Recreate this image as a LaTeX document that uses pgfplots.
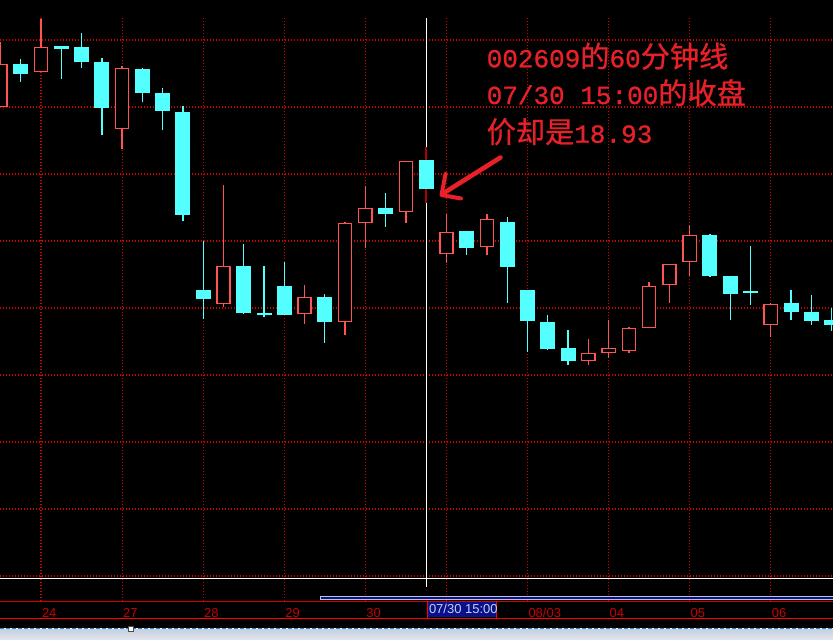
\documentclass[border=0pt]{standalone}
\usepackage{pgfplots}
\usepackage{pgfplotstable}
\pgfplotsset{compat=1.18}
\usepackage{fontspec}
\setmainfont{Liberation Sans}
\newfontfamily\cjk[FakeBold=0.8]{Noto Sans CJK SC}
\newfontfamily\mono[FakeBold=1]{Liberation Mono}
\definecolor{cy}{RGB}{84,255,255}
\definecolor{rd}{RGB}{255,84,84}
\definecolor{gridred}{RGB}{215,0,0}
\definecolor{wickred}{RGB}{170,0,0}
\definecolor{txtred}{RGB}{232,32,40}
\definecolor{navyb}{RGB}{8,16,140}
\definecolor{lblred}{RGB}{200,0,0}
\definecolor{sbar}{RGB}{190,196,212}
\definecolor{datetxt}{RGB}{200,206,228}
\definecolor{stripA}{RGB}{196,204,220}
\definecolor{stripB}{RGB}{226,231,240}
\definecolor{dashblue}{RGB}{40,130,225}
\newcommand{\A}[1]{{\mono\fontsize{26}{30}\selectfont #1}}
\newcommand{\C}[1]{{\cjk\fontsize{29.2}{30}\selectfont #1}}
\pgfplotsset{candle/.style={draw=none, mark=none, forget plot,
  error bars/.cd, y dir=both, y explicit, error mark=none}}

% 60-minute candles, values in chart pixels (top = 0): k open high low close
\pgfplotstableread{
k o h l c
0 107 42 107 64
2 72 19 72 47
6 129 66 149 68
11 304 185 307 266
15 314 285 324 297
17 322 222 335 223
18 223 186 248 208
20 212 161 223 161
22 254 214 263 232
24 247 214 255 219
29 361 339 365 353
30 353 320 358 348
31 351 327 353 328
32 328 282 328 286
33 285 264 303 264
34 262 225 276 235
38 325 303 337 304
}\up
\pgfplotstableread{
k o h l c
1 64 59 82 74
3 46 46 79 49
4 47 33 68 62
5 62 58 135 108
7 69 68 102 93
8 93 88 130 111
9 112 106 221 215
10 290 241 319 299
12 266 244 314 313
13 313 266 317 315
14 286 262 315 315
16 297 294 343 322
19 208 193 227 214
21 160 147 203 189
23 231 231 255 248
25 222 217 303 267
26 290 290 352 321
27 322 315 350 349
28 348 330 365 361
35 235 234 277 276
36 276 276 320 294
37 291 246 305 292
39 303 290 320 312
40 312 295 325 321
41 320 308 331 325
}\down
\pgfplotstableread{
k o h l c
21 160 147 203 189
}\cross

\begin{document}
\begin{tikzpicture}
\fill[black] (0,0) rectangle (833pt,640pt);
\begin{axis}[
  at={(0,0)}, anchor=south west,
  width=833pt, height=640pt, scale only axis,
  xmin=0, xmax=833, ymin=0, ymax=640, y dir=reverse,
  hide x axis, hide y axis,
]
% grid
\pgfplotsinvokeforeach{40,107,174,241,308,375,442,509,576}{
  \draw[gridred, line width=1.1pt, dash pattern=on 1.1pt off 1.9pt] (axis cs:0,#1) -- (axis cs:833,#1);
}
\pgfplotsinvokeforeach{41.04,122.1,203.2,284.3,365.4,446.4,527.5,608.6,689.7,770.8}{
  \draw[gridred, line width=1.1pt, dash pattern=on 1.1pt off 1.9pt] (axis cs:#1,18) -- (axis cs:#1,603);
}
% crosshair
\draw[white, line width=1pt] (axis cs:426.2,18) -- (axis cs:426.2,587);
\draw[white, line width=1pt] (axis cs:0,578) -- (axis cs:833,578);

% wicks
\addplot[candle, error bar style={draw=rd, line width=1.3pt}]
  table[x expr=0.5+20.27*\thisrow{k}, y expr=(\thisrow{h}+\thisrow{l})/2, y error expr=(\thisrow{l}-\thisrow{h})/2] {\up};
\addplot[candle, error bar style={draw=cy, line width=1.3pt}]
  table[x expr=0.5+20.27*\thisrow{k}, y expr=(\thisrow{h}+\thisrow{l})/2, y error expr=(\thisrow{l}-\thisrow{h})/2] {\down};
\addplot[candle, error bar style={draw=wickred, line width=1.4pt}]
  table[x expr=0.5+20.27*\thisrow{k}, y expr=(\thisrow{h}+\thisrow{l})/2, y error expr=(\thisrow{l}-\thisrow{h})/2] {\cross};
% bodies
\addplot[candle, error bar style={draw=rd, line width=14.6pt}]
  table[x expr=0.5+20.27*\thisrow{k}, y expr=(\thisrow{o}+\thisrow{c})/2, y error expr=abs(\thisrow{o}-\thisrow{c})/2] {\up};
\addplot[candle, error bar style={draw=black, line width=11.8pt}]
  table[x expr=0.5+20.27*\thisrow{k}, y expr=(\thisrow{o}+\thisrow{c})/2, y error expr=abs(\thisrow{o}-\thisrow{c})/2-1.4] {\up};
\addplot[candle, error bar style={draw=cy, line width=15pt}]
  table[x expr=0.5+20.27*\thisrow{k}, y expr=(\thisrow{o}+\thisrow{c})/2, y error expr=abs(\thisrow{o}-\thisrow{c})/2] {\down};

% annotation
\node[anchor=base west, inner sep=0, text=txtred] at (axis cs:486.5,67.3) {\A{002609}\C{的}\A{60}\C{分钟线}};
\node[anchor=base west, inner sep=0, text=txtred] at (axis cs:486.5,104) {\A{07/30 15:00}\C{的收盘}};
\node[anchor=base west, inner sep=0, text=txtred] at (axis cs:486.5,142.7) {\C{价却是}\A{18.93}};
\draw[txtred, line width=4.6pt, line cap=round, line join=round] (axis cs:500.5,157.5) -- (axis cs:443,193.5);
\draw[txtred, line width=4pt, line cap=round, line join=round] (axis cs:445.5,174) -- (axis cs:441.5,195) -- (axis cs:461,198.5);

% bottom area
\draw[fill=navyb, draw=sbar, line width=0.7pt] (axis cs:320,596.8) rectangle (axis cs:833,599.3);
\draw[gridred, line width=0.9pt] (axis cs:0,601.3) -- (axis cs:833,601.3);
\fill[navyb] (axis cs:426.7,601.5) rectangle (axis cs:496.7,616.8);
\draw[red, line width=0.9pt] (axis cs:427.1,601) -- (axis cs:427.1,617.5);
\draw[red, line width=0.9pt] (axis cs:496.3,601) -- (axis cs:496.3,617.5);
\node[anchor=west, inner sep=0, text=datetxt, font=\fontsize{13}{13}\selectfont] at (axis cs:428.8,609.3) {07/30 15:00};
\node[anchor=west, inner sep=0, text=lblred, font=\fontsize{13}{13}\selectfont] at (axis cs:41.8,612.8) {24};
\node[anchor=west, inner sep=0, text=lblred, font=\fontsize{13}{13}\selectfont] at (axis cs:122.9,612.8) {27};
\node[anchor=west, inner sep=0, text=lblred, font=\fontsize{13}{13}\selectfont] at (axis cs:204.0,612.8) {28};
\node[anchor=west, inner sep=0, text=lblred, font=\fontsize{13}{13}\selectfont] at (axis cs:285.1,612.8) {29};
\node[anchor=west, inner sep=0, text=lblred, font=\fontsize{13}{13}\selectfont] at (axis cs:366.2,612.8) {30};
\node[anchor=west, inner sep=0, text=lblred, font=\fontsize{13}{13}\selectfont] at (axis cs:528.3,612.8) {08/03};
\node[anchor=west, inner sep=0, text=lblred, font=\fontsize{13}{13}\selectfont] at (axis cs:609.4,612.8) {04};
\node[anchor=west, inner sep=0, text=lblred, font=\fontsize{13}{13}\selectfont] at (axis cs:690.5,612.8) {05};
\node[anchor=west, inner sep=0, text=lblred, font=\fontsize{13}{13}\selectfont] at (axis cs:771.6,612.8) {06};
\draw[red, line width=1.6pt] (axis cs:0,618.3) -- (axis cs:833,618.3);
\shade[top color=stripA, bottom color=stripB] (axis cs:0,628) rectangle (axis cs:833,640);
\draw[white, line width=1.1pt] (axis cs:0,628.3) -- (axis cs:833,628.3);
\draw[dashblue, line width=1.1pt, dash pattern=on 4pt off 2pt] (axis cs:0,628.3) -- (axis cs:833,628.3);
\draw[fill=white, draw=black!70, line width=0.8pt] (axis cs:128.2,626) rectangle (axis cs:133.2,631);
\end{axis}
\pgfresetboundingbox
\path[use as bounding box] (0,0) rectangle (833pt,640pt);
\end{tikzpicture}
\end{document}
